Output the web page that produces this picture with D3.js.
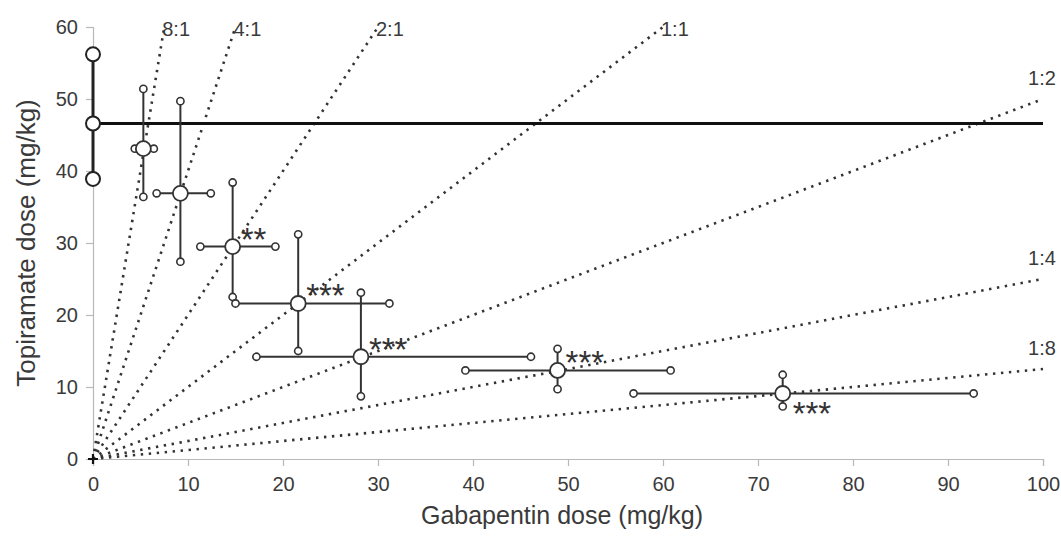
<!DOCTYPE html>
<html>
<head>
<meta charset="utf-8">
<script src="https://cdn.jsdelivr.net/npm/d3@7"></script>
<style>
  html, body { margin: 0; padding: 0; background: #fff; }
  svg { display: block; font-family: "Liberation Sans", Arial, sans-serif; }
</style>
</head>
<body>
<svg id="chart" width="1061" height="539"></svg>
<script>
// ---- data ----
const xTicks = [0, 10, 20, 30, 40, 50, 60, 70, 80, 90, 100];
const yTicks = [0, 10, 20, 30, 40, 50, 60];

// topiramate alone (ED50 with 95% CI)
const topiramateAlone = 46.6;
const topiramateAloneLow = 38.9;
const topiramateAloneHigh = 56.2;

// mixture points
const gabapentin = [5.3, 9.2, 14.7, 21.6, 28.2, 48.9, 72.6];
const gabapentinLow = [4.4, 6.7, 11.3, 15.0, 17.2, 39.2, 56.9];
const gabapentinHigh = [6.4, 12.4, 19.2, 31.2, 46.1, 60.8, 92.7];
const topiramate = [43.1, 36.9, 29.5, 21.6, 14.2, 12.3, 9.1];
const topiramateLow = [36.4, 27.4, 22.5, 15.0, 8.7, 9.7, 7.3];
const topiramateHigh = [51.4, 49.7, 38.4, 31.2, 23.1, 15.3, 11.7];
const significance = ["", "", "**", "***", "***", "***", "***"];

// fixed-ratio lines (topiramate : gabapentin)
const ratioLabels = ["8:1", "4:1", "2:1", "1:1", "1:2", "1:4", "1:8"];
const ratioValues = [8, 4, 2, 1, 0.5, 0.25, 0.125];

// ---- layout ----
const svg = d3.select("#chart");
const x = d3.scaleLinear().domain([0, 100]).range([93, 1043]);
const y = d3.scaleLinear().domain([0, 60]).range([459, 27]);
const ink = "#333";
const axisCol = "#b8b8b8";
const textCol = "#3a3a3a";

// axes
const xAxis = svg.append("g").attr("transform", `translate(0,${y(0)})`)
  .call(d3.axisBottom(x).tickValues(xTicks).tickSize(7).tickPadding(11).tickFormat(d3.format("d")));
const yAxis = svg.append("g").attr("transform", `translate(${x(0)},0)`)
  .call(d3.axisLeft(y).tickValues(yTicks).tickSize(7).tickPadding(8).tickFormat(d3.format("d")));
[xAxis, yAxis].forEach(g => {
  g.attr("font-size", null).attr("font-family", null);
  g.select(".domain").attr("stroke", axisCol).attr("stroke-width", 1.2);
  g.selectAll(".tick line").attr("stroke", axisCol).attr("stroke-width", 1.2);
  g.selectAll(".tick text").attr("fill", textCol).style("font-size", "20px");
});

// axis titles
svg.append("text").attr("x", 562).attr("y", 524).attr("text-anchor", "middle")
  .attr("fill", textCol).style("font-size", "25px").text("Gabapentin dose (mg/kg)");
svg.append("text").attr("transform", `translate(35,${(y(0) + y(60)) / 2}) rotate(-90)`)
  .attr("text-anchor", "middle").attr("fill", textCol).style("font-size", "26px")
  .text("Topiramate dose (mg/kg)");

// ratio lines
ratioValues.forEach((r, i) => {
  const xEnd = Math.min(100, 60 / r);
  const yEnd = r * xEnd;
  svg.append("line")
    .attr("x1", x(0)).attr("y1", y(0)).attr("x2", x(xEnd)).attr("y2", y(yEnd))
    .attr("stroke", ink).attr("stroke-width", 2.6)
    .attr("stroke-dasharray", "2.4,5.6").attr("stroke-linecap", "butt");
  const atTop = yEnd >= 60;
  svg.append("text")
    .attr("x", atTop ? x(xEnd) - 2 : x(xEnd) - 1)
    .attr("y", atTop ? y(yEnd) + 9 : y(yEnd) - 14)
    .attr("text-anchor", atTop ? "start" : "middle")
    .attr("fill", textCol).style("font-size", "20px")
    .text(ratioLabels[i]);
});

// topiramate alone: horizontal line + vertical CI
svg.append("line").attr("x1", x(0)).attr("x2", x(100))
  .attr("y1", y(topiramateAlone)).attr("y2", y(topiramateAlone))
  .attr("stroke", "#111").attr("stroke-width", 3);
svg.append("line").attr("x1", x(0)).attr("x2", x(0))
  .attr("y1", y(topiramateAloneLow)).attr("y2", y(topiramateAloneHigh))
  .attr("stroke", "#222").attr("stroke-width", 3);
[topiramateAloneLow, topiramateAlone, topiramateAloneHigh].forEach(v => {
  svg.append("circle").attr("cx", x(0)).attr("cy", y(v)).attr("r", 7)
    .attr("fill", "#fff").attr("stroke", "#222").attr("stroke-width", 2);
});

// origin marker
svg.append("path")
  .attr("d", `M${x(0) - 5},${y(0)}h10M${x(0)},${y(0) - 5}v10`)
  .attr("stroke", "#111").attr("stroke-width", 2.2);

// mixture points with error bars
const pts = gabapentin.map((g, i) => ({
  gx: g, gl: gabapentinLow[i], gh: gabapentinHigh[i],
  ty: topiramate[i], tl: topiramateLow[i], th: topiramateHigh[i], sig: significance[i]
}));
const gPts = svg.append("g");
pts.forEach(p => {
  gPts.append("line").attr("x1", x(p.gl)).attr("x2", x(p.gh))
    .attr("y1", y(p.ty)).attr("y2", y(p.ty)).attr("stroke", ink).attr("stroke-width", 2);
  gPts.append("line").attr("x1", x(p.gx)).attr("x2", x(p.gx))
    .attr("y1", y(p.tl)).attr("y2", y(p.th)).attr("stroke", ink).attr("stroke-width", 2);
  [[p.gl, p.ty], [p.gh, p.ty], [p.gx, p.tl], [p.gx, p.th]].forEach(([a, b]) => {
    gPts.append("circle").attr("cx", x(a)).attr("cy", y(b)).attr("r", 3.6)
      .attr("fill", "#fff").attr("stroke", ink).attr("stroke-width", 1.6);
  });
});
pts.forEach(p => {
  gPts.append("circle").attr("cx", x(p.gx)).attr("cy", y(p.ty)).attr("r", 7.5)
    .attr("fill", "#fff").attr("stroke", ink).attr("stroke-width", 1.8);
});

// significance stars
pts.forEach((p, i) => {
  if (!p.sig) return;
  const below = i === pts.length - 1;
  svg.append("text")
    .attr("x", x(p.gx) + (below ? 10 : 8))
    .attr("y", y(p.ty) + (below ? 14 : -14) + 18)
    .attr("fill", "#333").style("font-size", "33px")
    .text(p.sig);
});
</script>
</body>
</html>
